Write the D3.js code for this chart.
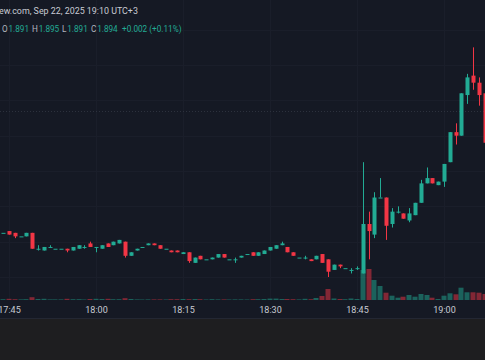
<!DOCTYPE html>
<html>
<head>
<meta charset="utf-8">
<script src="https://cdn.jsdelivr.net/npm/d3@7"></script>
<style>
  html, body { margin: 0; padding: 0; background: #1e1e20; }
  svg { display: block; }
  text { font-family: Roboto, "Noto Sans", sans-serif; }
</style>
</head>
<body>
<svg id="chart" width="485" height="360"></svg>
<script>
// ---- data (1-minute candles, first candle 17:44) ----
const firstMinute = "2025-09-22T17:44";
const opens  = [1.825,1.826,1.825,1.823,1.823,1.825,1.816,1.815,1.817,1.816,1.816,1.816,1.815,1.816,1.817,1.819,1.817,1.816,1.819,1.818,1.819,1.820,1.812,1.815,1.817,1.818,1.819,1.818,1.816,1.815,1.815,1.813,1.814,1.808,1.812,1.810,1.810,1.811,1.813,1.810,1.810,1.811,1.813,1.814,1.812,1.813,1.815,1.816,1.818,1.817,1.814,1.811,1.811,1.810,1.810,1.813,1.810,1.804,1.807,1.805,1.804,1.805,1.802,1.830,1.824,1.845,1.845,1.830,1.837,1.836,1.832,1.835,1.842,1.853,1.856,1.852,1.854,1.865,1.882,1.880,1.903,1.914,1.910,1.904];
const highs  = [1.825,1.826,1.825,1.823,1.825,1.825,1.818,1.817,1.818,1.816,1.816,1.816,1.817,1.818,1.818,1.820,1.817,1.818,1.819,1.820,1.821,1.820,1.814,1.816,1.817,1.819,1.819,1.818,1.816,1.815,1.815,1.814,1.814,1.811,1.812,1.810,1.811,1.813,1.813,1.810,1.811,1.812,1.813,1.814,1.814,1.815,1.817,1.818,1.820,1.817,1.814,1.811,1.812,1.810,1.812,1.813,1.810,1.807,1.807,1.805,1.805,1.806,1.865,1.837,1.848,1.856,1.845,1.839,1.840,1.836,1.839,1.842,1.855,1.862,1.856,1.854,1.864,1.882,1.887,1.904,1.915,1.930,1.913,1.906];
const lows   = [1.825,1.824,1.822,1.823,1.823,1.816,1.815,1.815,1.817,1.816,1.816,1.814,1.815,1.816,1.816,1.817,1.814,1.816,1.817,1.818,1.819,1.811,1.812,1.815,1.817,1.818,1.818,1.816,1.816,1.814,1.814,1.813,1.808,1.808,1.810,1.810,1.810,1.811,1.811,1.810,1.808,1.811,1.813,1.812,1.812,1.813,1.815,1.816,1.818,1.814,1.812,1.811,1.810,1.809,1.810,1.808,1.800,1.804,1.805,1.805,1.802,1.804,1.802,1.810,1.822,1.845,1.821,1.828,1.836,1.833,1.831,1.835,1.842,1.853,1.853,1.852,1.851,1.865,1.875,1.880,1.898,1.906,1.897,1.870];
const closes = [1.825,1.824,1.823,1.823,1.825,1.816,1.816,1.817,1.817,1.816,1.816,1.815,1.817,1.818,1.817,1.817,1.817,1.818,1.817,1.820,1.821,1.812,1.814,1.816,1.817,1.819,1.818,1.816,1.816,1.814,1.814,1.814,1.809,1.811,1.810,1.810,1.811,1.813,1.811,1.810,1.810,1.812,1.813,1.812,1.814,1.815,1.817,1.818,1.819,1.814,1.812,1.811,1.811,1.809,1.812,1.808,1.803,1.807,1.806,1.805,1.804,1.805,1.830,1.826,1.845,1.845,1.829,1.837,1.837,1.833,1.836,1.842,1.853,1.856,1.853,1.854,1.864,1.882,1.880,1.904,1.913,1.910,1.903,1.876];
const volumes = [8,12,8,6,8,28,10,12,6,6,6,12,8,8,5,10,12,10,12,8,8,18,10,6,5,6,6,6,5,8,8,10,8,10,8,5,8,6,6,5,6,6,5,8,8,10,14,14,10,10,8,6,12,8,20,40,110,15,10,8,15,10,300,310,200,140,73,43,23,33,50,33,60,50,23,10,43,67,57,123,77,77,73,60];
const tickLabels = ["17:45","18:00","18:15","18:30","18:45","19:00"];
const priceGrid = [1.80,1.82,1.84,1.86,1.88,1.90,1.92,1.94];
const lastPrice = 1.894;
const titleText = "ew.com, Sep 22, 2025 19:10 UTC+3";
const ohlcLabels = ["O","H","L","C"];
const ohlcValues = ["1.891","1.895","1.891","1.894"];
const changeText = "+0.002 (+0.11%)";

// ---- setup ----
const W = 485, H = 360;
const UP = "#22ab94", DOWN = "#f23645";
const parseHM = d3.timeParse("%Y-%m-%d %H:%M");
const start = d3.timeParse("%Y-%m-%dT%H:%M")(firstMinute);
const times = d3.range(opens.length).map(i => d3.timeMinute.offset(start, i));
const candles = times.map((t, i) => ({t, o: opens[i], h: highs[i], l: lows[i], c: closes[i], v: volumes[i]}));
const ticks = tickLabels.map(s => parseHM("2025-09-22 " + s));

const x = d3.scaleTime().domain([ticks[0], ticks[ticks.length - 1]]).range([9, 444]);
const y = d3.scaleLinear().domain([1.80, 1.94]).range([277, 29.7]);
const yv = d3.scaleLinear().domain([0, 400]).range([300, 260]);

const svg = d3.select("#chart");
svg.append("rect").attr("x", 0).attr("y", 0).attr("width", W).attr("height", 318).attr("fill", "#151924");
svg.append("rect").attr("x", 0).attr("y", 318).attr("width", W).attr("height", H - 318).attr("fill", "#1e1e20");
svg.append("line").attr("x1", 0).attr("x2", W).attr("y1", 318.5).attr("y2", 318.5).attr("stroke", "#232733");

// grid
const grid = svg.append("g").attr("stroke", "#1a1e2a").attr("stroke-width", 1).attr("shape-rendering", "crispEdges");
grid.selectAll(".hg").data(priceGrid).join("line")
  .attr("x1", 0).attr("x2", W).attr("y1", d => Math.round(y(d)) + 0.5).attr("y2", d => Math.round(y(d)) + 0.5);
grid.selectAll(".vg").data(ticks).join("line")
  .attr("y1", 0).attr("y2", 300).attr("x1", d => Math.round(x(d)) + 0.5).attr("x2", d => Math.round(x(d)) + 0.5);

// last price dotted line
svg.append("line").attr("x1", 0).attr("x2", W)
  .attr("y1", Math.round(y(lastPrice)) + 0.5).attr("y2", Math.round(y(lastPrice)) + 0.5)
  .attr("stroke", "#2c313d").attr("stroke-dasharray", "1,2");

// volume
svg.append("g").selectAll("rect").data(candles).join("rect")
  .attr("x", d => Math.round(x(d.t)) - 2.5)
  .attr("width", 5)
  .attr("y", d => yv(d.v))
  .attr("height", d => yv(0) - yv(d.v))
  .attr("fill", d => d.c >= d.o ? UP : DOWN)
  .attr("fill-opacity", 0.5);

// candles
const cg = svg.append("g").selectAll("g").data(candles).join("g");
cg.append("line")
  .attr("x1", d => Math.round(x(d.t)) + 0.5).attr("x2", d => Math.round(x(d.t)) + 0.5)
  .attr("y1", d => y(d.h)).attr("y2", d => y(d.l))
  .attr("stroke", d => d.c >= d.o ? UP : DOWN).attr("stroke-width", 1);
cg.append("rect")
  .attr("x", d => Math.round(x(d.t)) - 1.5)
  .attr("width", 4)
  .attr("y", d => y(Math.max(d.o, d.c)))
  .attr("height", d => Math.max(1, y(Math.min(d.o, d.c)) - y(Math.max(d.o, d.c))))
  .attr("fill", d => d.c >= d.o ? UP : DOWN);

// time axis
const axis = d3.axisBottom(x).tickValues(ticks).tickFormat(d3.timeFormat("%H:%M")).tickSize(0).tickPadding(7);
const ag = svg.append("g").attr("transform", "translate(0,300)").call(axis);
ag.select(".domain").remove();
ag.selectAll("text").attr("fill", "#c8cbd3").style("font-size", "9px").style("font-family", "Roboto, sans-serif");

// header
svg.append("text").attr("x", -1).attr("y", 13.5).attr("fill", "#c8cbd3").style("font-size", "8.9px").text(titleText);
const labelX = [2, 32, 62, 91];
ohlcLabels.forEach((lab, i) => {
  const t = svg.append("text").attr("x", labelX[i]).attr("y", 32.3).style("font-size", "8.2px");
  t.append("tspan").attr("fill", "#b2b5be").text(lab);
  t.append("tspan").attr("fill", UP).attr("dx", 0.8).text(ohlcValues[i]);
});
svg.append("text").attr("x", 122).attr("y", 32.3).attr("fill", UP).style("font-size", "8.2px").text(changeText);
</script>
</body>
</html>
